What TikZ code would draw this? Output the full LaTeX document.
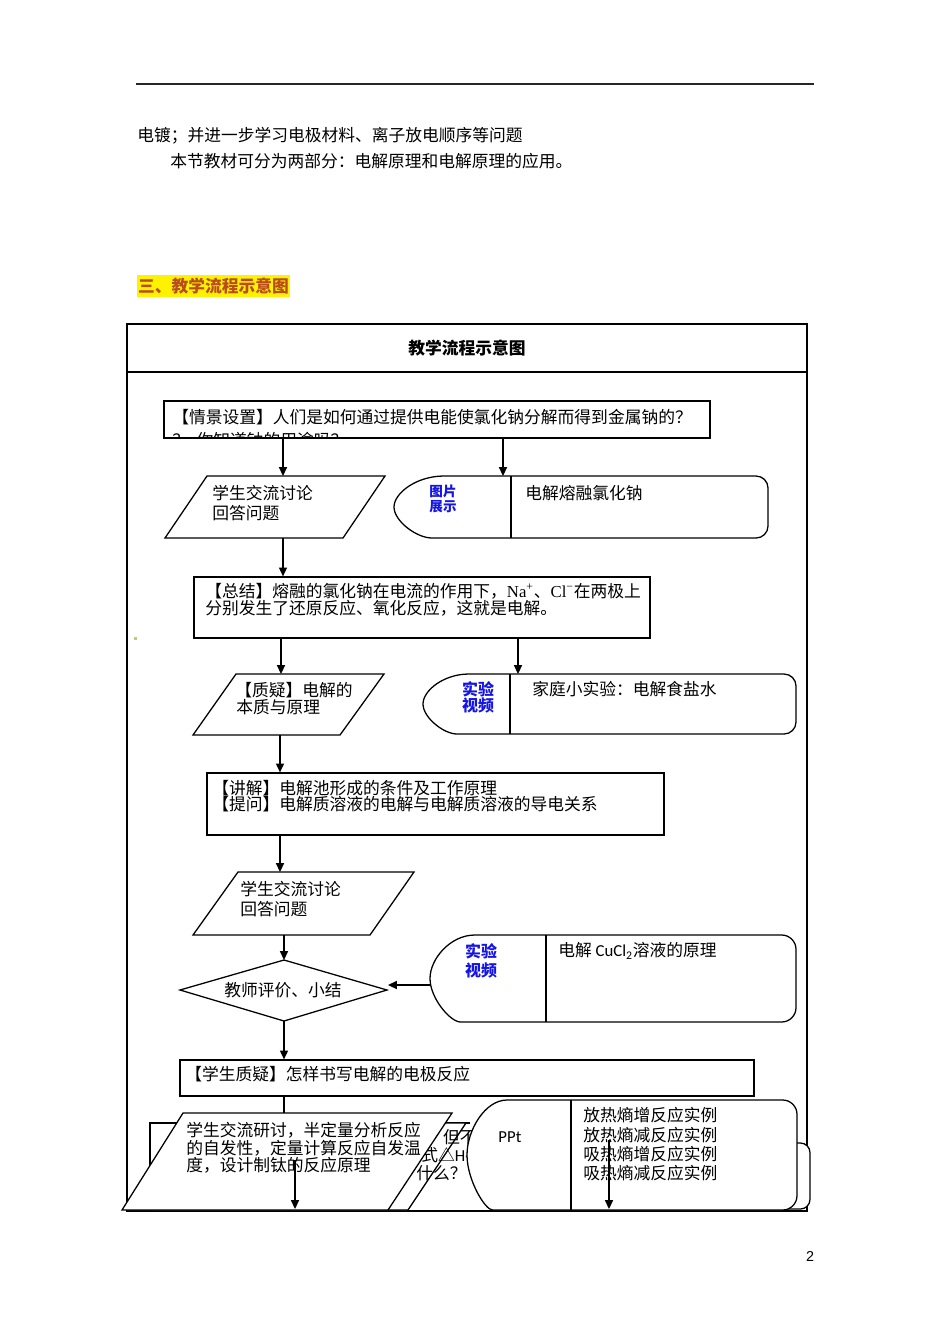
\documentclass[tikz,border=0pt]{standalone}
\usepackage{fontspec}
\setmainfont{Noto Sans CJK SC}
\newfontfamily\latserif{Liberation Serif}
\newfontfamily\calib{Carlito}
\newfontfamily\lsans{Liberation Sans}
\usetikzlibrary{arrows.meta}
\definecolor{lblue}{RGB}{20,20,230}
\definecolor{hdr}{RGB}{185,75,30}
\definecolor{dotc}{RGB}{200,200,110}
\def\pxu{0.6266pt}
\tikzset{
  ln/.style={draw=black, line width=0.8pt},
  shp/.style={ln, fill=white},
  arr/.style={ln, -{Triangle[length=5.5pt,width=5pt]}},
  txt/.style={anchor=west, inner sep=0pt, font=\fontsize{10.5}{12}\selectfont},
  lbl/.style={inner sep=0pt, font=\bfseries\fontsize{10}{12}\selectfont, text=lblue},
  box/.style={shp, rectangle, inner sep=0pt},
}
% #1 curve centre x, #2 top, #3 bottom, #4 curve x radius, #5 right x, #6 corner radius
\newcommand{\dshape}[6]{%
  \draw[shp, rounded corners=#6] (#1,#2) -- (#5,#2) -- (#5,#3) -- (#1,#3)
   [sharp corners] .. controls ({#1-0.5523*#4},#3) and ({#1-#4},{#3-0.5523*(#3-#2)/2}) .. ({#1-#4},{(#2+#3)/2})
   .. controls ({#1-#4},{#2+0.5523*(#3-#2)/2}) and ({#1-0.5523*#4},#2) .. cycle;}
\begin{document}
\begin{tikzpicture}[x=0.6266pt,y=-0.6266pt]
\useasboundingbox (0,0) rectangle (950,1344);
\fill[white] (0,0) rectangle (950,1344);

% page text
\coordinate (r1) at (136,84); \coordinate (r2) at (814,84);
\draw[line width=1.1pt, black!85] (r1) -- (r2);
\node[txt] (p1) at (137,136) {电镀；并进一步学习电极材料、离子放电顺序等问题};
\node[txt] (p2) at (170,161) {本节教材可分为两部分：电解原理和电解原理的应用。};
\node[txt, font=\bfseries\fontsize{10.5}{12}\selectfont, text=hdr, fill=yellow, inner ysep=1.5pt, inner xsep=0.5pt] (h1) at (137,286) {三、教学流程示意图};

% table
\node[ln, rectangle, inner sep=0pt, minimum width=680*\pxu, minimum height=887*\pxu] (tab) at (467,767.5) {};
\coordinate (hl) at (127,372); \coordinate (hr) at (807,372);
\draw[ln] (hl) -- (hr);
\node[inner sep=0pt, font=\bfseries\fontsize{10.5}{12}\selectfont] (ttl) at (467,348) {教学流程示意图};

% box 1
\node[box, minimum width=546*\pxu, minimum height=37*\pxu] (b1) at (437,419.5) {};
\node[txt] (b1a) at (172,417) {【情景设置】人们是如何通过提供电能使氯化钠分解而得到金属钠的？};
\begin{scope}
  \clip (165,402) rectangle (709,437.5);
  \node[txt] (b1b) at (172,440) {？\ \ 你知道钠的用途吗？};
\end{scope}
\coordinate (P1t) at (283,476); \coordinate (S1t) at (503,476);
\draw[arr] (b1.south -| P1t) -- (P1t);
\draw[arr] (b1.south -| S1t) -- (S1t);

% parallelogram 1
\coordinate (P1a) at (207,476); \coordinate (P1b) at (385,476);
\coordinate (P1c) at (343,538); \coordinate (P1d) at (165,538);
\draw[shp] (P1a) -- (P1b) -- (P1c) -- (P1d) -- cycle;
\node[txt] (P1x) at (212,493) {学生交流讨论};
\node[txt] (P1y) at (212,513) {回答问题};

% shape 1
\dshape{444}{476}{538}{50}{768}{7.5pt}
\coordinate (S1u) at (511,476); \coordinate (S1v) at (511,538);
\draw[ln] (S1u) -- (S1v);
\node[lbl, font=\bfseries\fontsize{8.5}{10}\selectfont] (S1l1) at (443,491) {图片};
\node[lbl, font=\bfseries\fontsize{8.5}{10}\selectfont] (S1l2) at (443,507) {展示};
\node[txt] (S1x) at (525,493) {电解熔融氯化钠};

% box 2
\coordinate (P1bot) at (283,538);
\node[box, minimum width=456*\pxu, minimum height=61*\pxu] (b2) at (422,607.5) {};
\draw[arr] (P1bot) -- (b2.north -| P1bot);
\node[txt] (b2a) at (205,591) {【总结】熔融的氯化钠在电流的作用下，{\latserif Na\textsuperscript{+}}、{\latserif Cl\textsuperscript{−}}在两极上};
\node[txt] (b2b) at (205,608) {分别发生了还原反应、氧化反应，这就是电解。};
\fill[dotc] (134,637) rectangle (137,640);
\coordinate (P2t) at (281,674); \coordinate (S2t) at (518,674);
\draw[arr] (b2.south -| P2t) -- (P2t);
\draw[arr] (b2.south -| S2t) -- (S2t);

% parallelogram 2
\coordinate (P2a) at (236,674); \coordinate (P2b) at (384,674);
\coordinate (P2c) at (340,735); \coordinate (P2d) at (193,735);
\draw[shp] (P2a) -- (P2b) -- (P2c) -- (P2d) -- cycle;
\node[txt] (P2x) at (235,690) {【质疑】电解的};
\node[txt] (P2y) at (236,707) {本质与原理};

% shape 2
\dshape{469}{674}{734}{46}{796}{7.5pt}
\coordinate (S2u) at (510,674); \coordinate (S2v) at (510,734);
\draw[ln] (S2u) -- (S2v);
\node[lbl] (S2l1) at (478,689) {实验};
\node[lbl] (S2l2) at (478,705) {视频};
\node[txt] (S2x) at (532,689) {家庭小实验：电解食盐水};

% box 3
\coordinate (P2bot) at (280,735);
\node[box, minimum width=457*\pxu, minimum height=62*\pxu] (b3) at (435.5,804) {};
\draw[arr] (P2bot) -- (b3.north -| P2bot);
\node[txt] (b3a) at (212,788) {【讲解】电解池形成的条件及工作原理};
\node[txt] (b3b) at (212,804) {【提问】电解质溶液的电解与电解质溶液的导电关系};
\coordinate (P3t) at (280,872);
\draw[arr] (b3.south -| P3t) -- (P3t);

% parallelogram 3
\coordinate (P3a) at (238,872); \coordinate (P3b) at (414,872);
\coordinate (P3c) at (370,935); \coordinate (P3d) at (193,935);
\draw[shp] (P3a) -- (P3b) -- (P3c) -- (P3d) -- cycle;
\node[txt] (P3x) at (240,889) {学生交流讨论};
\node[txt] (P3y) at (240,909) {回答问题};

% diamond
\coordinate (Dt) at (284,960); \coordinate (Dr) at (387,990);
\coordinate (Db) at (284,1021); \coordinate (Dl) at (180,990);
\coordinate (P3bot) at (284,935);
\draw[shp] (Dt) -- (Dr) -- (Db) -- (Dl) -- cycle;
\draw[arr] (P3bot) -- (Dt);
\node[inner sep=0pt, font=\fontsize{10.5}{12}\selectfont] (Dx) at (283,990) {教师评价、小结};

% shape 3
\dshape{475}{935}{1022}{45}{796}{9pt}
\coordinate (S3u) at (546,935); \coordinate (S3v) at (546,1022);
\draw[ln] (S3u) -- (S3v);
\node[lbl] (S3l1) at (481,951) {实验};
\node[lbl] (S3l2) at (481,970) {视频};
\node[txt] (S3x) at (558,951) {电解 {\calib CuCl\textsubscript{2}}溶液的原理};
\coordinate (S3l) at (430.5,985); \coordinate (Dra) at (388,985);
\draw[arr] (S3l) -- (Dra);

% box 4
\node[box, minimum width=574*\pxu, minimum height=36*\pxu] (b4) at (467,1078) {};
\draw[arr] (Db) -- (b4.north -| Db);
\node[txt] (b4a) at (185,1074) {【学生质疑】怎样书写电解的电极反应};
\coordinate (P4t) at (284,1113);
\draw[ln] (b4.south -| P4t) -- (P4t);

% hidden back objects
\coordinate (K1) at (470,1123); \coordinate (K2) at (150,1123); \coordinate (K3) at (150,1210);
\draw[ln] (K1) -- (K2) -- (K3);
\coordinate (Q1) at (205,1123); \coordinate (Q2) at (466,1123);
\coordinate (Q3) at (408,1210); \coordinate (Q4) at (147,1210);
\draw[shp] (Q1) -- (Q2) -- (Q3) -- (Q4) -- cycle;
\node[txt] (Qx) at (426,1137) {，但不};
\node[txt] (Qy) at (421,1155) {式△{\calib H-T}};
\node[txt] (Qz) at (416,1173) {什么？};

% front parallelogram
\coordinate (P4a) at (183,1113); \coordinate (P4b) at (452,1113);
\coordinate (P4c) at (388,1210); \coordinate (P4d) at (122,1210);
\draw[shp] (P4a) -- (P4b) -- (P4c) -- (P4d) -- cycle;
\node[txt] (P4x) at (186,1130) {学生交流研讨，半定量分析反应};
\node[txt] (P4y) at (186,1148) {的自发性，定量计算反应自发温};
\node[txt] (P4z) at (186,1165) {度，设计制钛的反应原理};
\coordinate (A1s) at (295,1160); \coordinate (A1e) at (295,1209);
\draw[arr] (A1s) -- (A1e);

% right back shape and PPt shape
\draw[shp, rounded corners=6pt] (700,1143) rectangle (810,1209);
\dshape{507}{1100}{1210}{40}{797}{9pt}
\coordinate (S4u) at (571,1100); \coordinate (S4v) at (571,1210);
\draw[ln] (S4u) -- (S4v);
\node[inner sep=0pt, font=\calib\fontsize{10.5}{12}\selectfont] (S4l) at (510,1137) {PPt};
\node[txt] (S4a) at (583,1115) {放热熵增反应实例};
\node[txt] (S4b) at (583,1135) {放热熵减反应实例};
\node[txt] (S4c) at (583,1154) {吸热熵增反应实例};
\node[txt] (S4d) at (583,1173) {吸热熵减反应实例};
\coordinate (A2s) at (609,1140); \coordinate (A2e) at (609,1209);
\draw[arr] (A2s) -- (A2e);

% page number
\node[inner sep=0pt, font=\lsans\fontsize{9}{10}\selectfont] (pg) at (810,1256) {2};
\end{tikzpicture}
\end{document}
